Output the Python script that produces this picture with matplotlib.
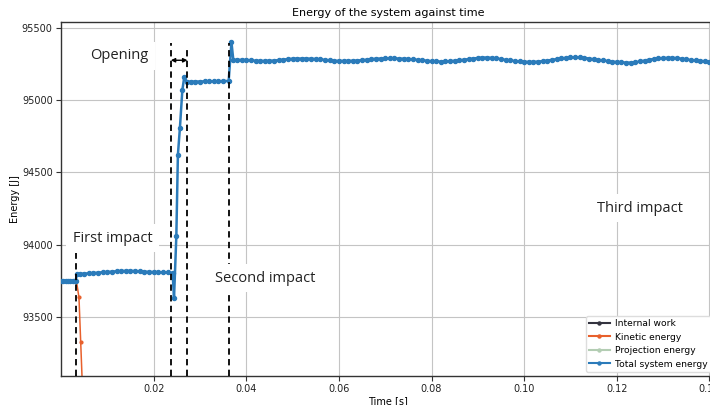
import numpy as np
import matplotlib
matplotlib.use("Agg")
import matplotlib.pyplot as plt

# ---- data -------------------------------------------------------------
# Total system energy [J] versus time [s]
t_total = [
    0.0000, 0.0005, 0.0010, 0.0015, 0.0020, 0.0025, 0.0030, 0.0032,
    0.0034, 0.0040, 0.0050, 0.0060, 0.0070, 0.0080, 0.0090, 0.0100,
    0.0110, 0.0120, 0.0130, 0.0140, 0.0150, 0.0160, 0.0170, 0.0180,
    0.0190, 0.0200, 0.0210, 0.0220, 0.0230, 0.0241,
    0.0244, 0.0249, 0.02524, 0.02567, 0.0262, 0.0266, 0.0272,
    0.0280, 0.0290, 0.0300, 0.0310, 0.0320, 0.0330, 0.0340, 0.0350, 0.0362,
    0.0368, 0.0372,
    0.038, 0.039, 0.040, 0.041, 0.042, 0.043, 0.044, 0.045, 0.046, 0.047,
    0.048, 0.049, 0.050, 0.051, 0.052, 0.053, 0.054, 0.055, 0.056, 0.057,
    0.058, 0.059, 0.060, 0.061, 0.062, 0.063, 0.064, 0.065, 0.066, 0.067,
    0.068, 0.069, 0.070, 0.071, 0.072, 0.073, 0.074, 0.075, 0.076, 0.077,
    0.078, 0.079, 0.080, 0.081, 0.082, 0.083, 0.084, 0.085, 0.086, 0.087,
    0.088, 0.089, 0.090, 0.091, 0.092, 0.093, 0.094, 0.095, 0.096, 0.097,
    0.098, 0.099, 0.100, 0.101, 0.102, 0.103, 0.104, 0.105, 0.106, 0.107,
    0.108, 0.109, 0.110, 0.111, 0.112, 0.113, 0.114, 0.115, 0.116, 0.117,
    0.118, 0.119, 0.120, 0.121, 0.122, 0.123, 0.124, 0.125, 0.126, 0.127,
    0.128, 0.129, 0.130, 0.131, 0.132, 0.133, 0.134, 0.135, 0.136, 0.137,
    0.138, 0.139, 0.140, 0.141,
]
e_total = [
    93750, 93750, 93750, 93750, 93750, 93750, 93750, 93750,
    93795, 93797, 93799, 93801, 93803, 93806, 93808, 93810,
    93813, 93815, 93817, 93818, 93818, 93817, 93815, 93813,
    93811, 93810, 93809, 93808, 93807, 93806,
    93628, 94058, 94622, 94806, 95070, 95157, 95128,
    95128, 95129, 95129, 95130, 95130, 95131, 95131, 95132, 95133,
    95402, 95279,
    95279, 95279, 95278, 95276, 95273, 95272, 95272, 95273, 95274, 95277,
    95281, 95284, 95287, 95288, 95288, 95288, 95287, 95285, 95282, 95279,
    95276, 95273, 95272, 95272, 95272, 95273, 95274, 95277, 95280, 95284,
    95287, 95288, 95289, 95289, 95289, 95288, 95287, 95285, 95282, 95279,
    95276, 95273, 95270, 95268, 95267, 95268, 95270, 95273, 95276, 95280,
    95284, 95288, 95292, 95295, 95295, 95293, 95289, 95284, 95279, 95275,
    95271, 95268, 95266, 95265, 95265, 95267, 95270, 95274, 95279, 95284,
    95289, 95293, 95296, 95297, 95296, 95293, 95288, 95283, 95279, 95275,
    95271, 95267, 95264, 95262, 95260, 95260, 95262, 95268, 95274, 95280,
    95285, 95289, 95292, 95293, 95293, 95291, 95287, 95282, 95278, 95275,
    95272, 95269, 95266, 95264,
]

# Kinetic energy [J]
t_kinetic = [0.0000, 0.0010, 0.0020, 0.0030, 0.00332, 0.00388, 0.00425, 0.00465, 0.00505]
e_kinetic = [93750, 93750, 93750, 93750, 93749, 93634, 93327, 92990, 92640]

# Internal work and projection energy [J] (well below the plotted range)
t_internal = [0.0000, 0.0040, 0.0240, 0.0280, 0.0370, 0.1410]
e_internal = [0, 120, 640, 890, 1210, 1260]
t_projection = [0.0000, 0.0040, 0.0240, 0.0280, 0.0370, 0.1410]
e_projection = [0, 0, 0, 0, 0, 0]

# Event markers
event_times = [0.0032, 0.0237, 0.0273, 0.03625]
event_tops = [93940, 95396, 95369, 95396]
labels = ["Opening", "First impact", "Second impact", "Third impact"]

# ---- figure -----------------------------------------------------------
fig = plt.figure(figsize=(7.10, 4.05), dpi=100)
ax = fig.add_axes([61 / 710, 29 / 405, 654 / 710, 354 / 405])

c_int = "#33333f"
c_kin = "#e8602c"
c_proj = "#b3cdb3"
c_tot = "#2b7bba"

ax.plot(t_internal, e_internal, color=c_int, marker="o", ms=2.0, lw=1.5,
        label="Internal work")
ax.plot(t_kinetic, e_kinetic, color=c_kin, marker="o", ms=2.0, lw=1.1,
        label="Kinetic energy")
ax.plot(t_projection, e_projection, color=c_proj, marker="o", ms=2.0, lw=1.5,
        label="Projection energy")
ax.plot(t_total, e_total, color=c_tot, marker="o", ms=2.9, lw=1.8,
        label="Total system energy", zorder=3)

ax.set_xlim(0.0, 0.1412)
ax.set_ylim(93090, 95541)
ax.set_xticks([0.02, 0.04, 0.06, 0.08, 0.10, 0.12, 0.14])
ax.set_yticks([93500, 94000, 94500, 95000, 95500])
ax.xaxis.set_major_formatter(matplotlib.ticker.FormatStrFormatter("%.2f"))
ax.grid(True, color="#c4c4c4", lw=0.8)
ax.set_axisbelow(True)
ax.tick_params(labelsize=7, color="#333333", labelcolor="#222222",
               length=3.5, width=0.8, pad=2.5)
for side in ("left", "bottom", "top", "right"):
    ax.spines[side].set_color("#333333")
    ax.spines[side].set_linewidth(1.0)

ax.set_title("Energy of the system against time", fontsize=8, pad=4)
ax.set_xlabel("Time [s]", fontsize=7, labelpad=1)
ax.set_ylabel("Energy [J]", fontsize=7, labelpad=1)

leg = ax.legend(loc="lower right", fontsize=6.6, framealpha=1.0,
                edgecolor="#dddddd", borderpad=0.35, labelspacing=0.5,
                handlelength=2.2, handletextpad=0.6, borderaxespad=0.45)
for line in leg.get_lines():
    line.set_linewidth(1.5)
    line.set_markersize(2.2)

# dashed event lines
for et, top in zip(event_times, event_tops):
    ax.vlines(et, 93090, top, colors="black", lw=1.3,
              linestyles=(0, (3.5, 2.4)), zorder=5)

# opening interval arrow
ax.annotate("", xy=(event_times[1], 95276), xytext=(event_times[2], 95276),
            arrowprops=dict(arrowstyle="<|-|>", color="black", lw=1.0,
                            mutation_scale=6, shrinkA=0, shrinkB=0),
            zorder=6)

box = dict(boxstyle="square,pad=0.45", fc="white", ec="none")
font = dict(family=["Open Sans", "DejaVu Sans"], fontsize=10.5, color="#222222")
ax.text(0.01268, 95306, labels[0], ha="center", va="center", bbox=box,
        zorder=7, **font)
ax.text(0.01115, 94044, labels[1], ha="center", va="center", bbox=box,
        zorder=7, **font)
ax.text(0.04405, 93768, labels[2], ha="center", va="center", bbox=box,
        zorder=7, **font)
ax.text(0.1249, 94252, labels[3], ha="center", va="center", bbox=box,
        zorder=7, **font)

fig.savefig("out.png", dpi=100)
